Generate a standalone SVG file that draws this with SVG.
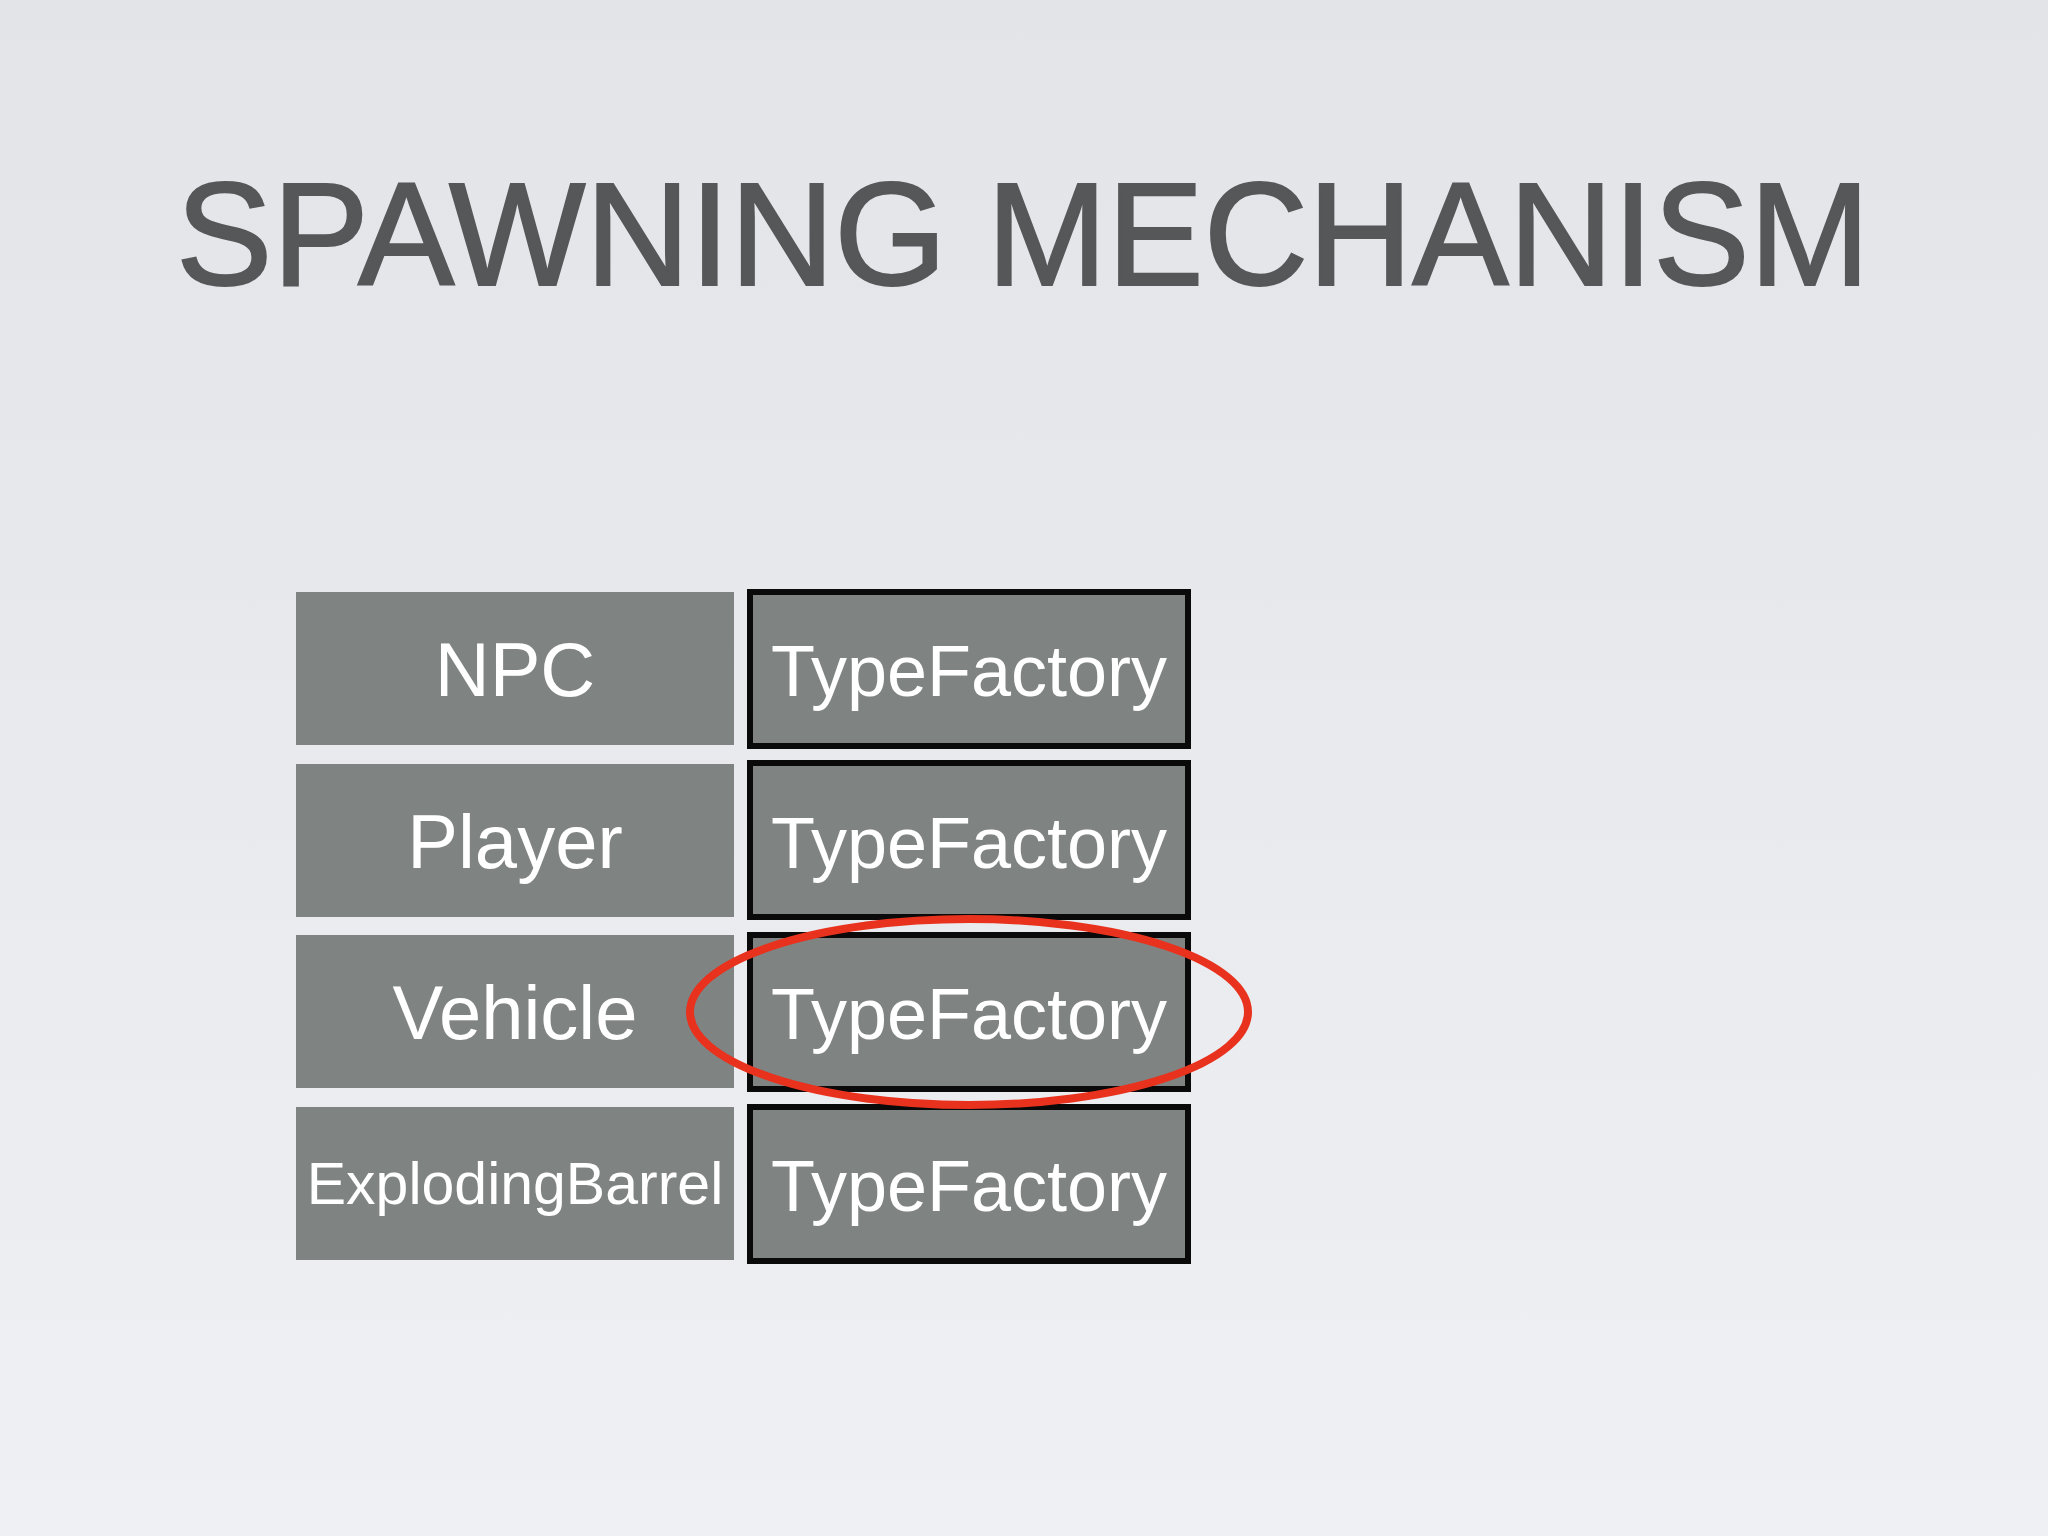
<svg xmlns="http://www.w3.org/2000/svg" width="2048" height="1536" viewBox="0 0 2048 1536">
<defs>
<linearGradient id="bg" x1="0" y1="0" x2="0" y2="1">
<stop offset="0" stop-color="#e2e4e8"/><stop offset="1" stop-color="#eff0f4"/>
</linearGradient>
<style>
.l{fill:#7f8482}
.r{fill:#7f8482;stroke:#0a0a0a;stroke-width:6}
.t{font-family:"Liberation Sans",Arial,sans-serif;fill:#fff;text-anchor:middle;font-size:76px}
.f{font-size:72px}
.b{font-size:59px}
</style>
</defs>
<rect width="2048" height="1536" fill="url(#bg)"/>
<text x="1023" y="285" font-family="Liberation Sans,Arial,sans-serif" font-size="146" fill="#555758" stroke="#555758" stroke-width="2" text-anchor="middle" textLength="1694" lengthAdjust="spacingAndGlyphs">SPAWNING MECHANISM</text>
<g id="npc"><rect class="l" x="296" y="592" width="438" height="153"/><text class="t" x="515" y="696">NPC</text></g>
<g id="player"><rect class="l" x="296" y="764" width="438" height="153"/><text class="t" x="515" y="868">Player</text></g>
<g id="vehicle"><rect class="l" x="296" y="935" width="438" height="153"/><text class="t" x="515" y="1039">Vehicle</text></g>
<g id="barrel"><rect class="l" x="296" y="1107" width="438" height="153"/><text class="t b" x="515" y="1204">ExplodingBarrel</text></g>
<g id="tf1"><rect class="r" x="750" y="592" width="438" height="154"/><text class="t f" x="969" y="696">TypeFactory</text></g>
<g id="tf2"><rect class="r" x="750" y="763" width="438" height="154"/><text class="t f" x="969" y="868">TypeFactory</text></g>
<g id="tf3"><rect class="r" x="750" y="935" width="438" height="154"/><text class="t f" x="969" y="1039">TypeFactory</text></g>
<g id="tf4"><rect class="r" x="750" y="1107" width="438" height="154"/><text class="t f" x="969" y="1211">TypeFactory</text></g>
<g id="highlight"><ellipse cx="969" cy="1012" rx="279" ry="93" fill="none" stroke="#e8321e" stroke-width="8"/></g>
</svg>
